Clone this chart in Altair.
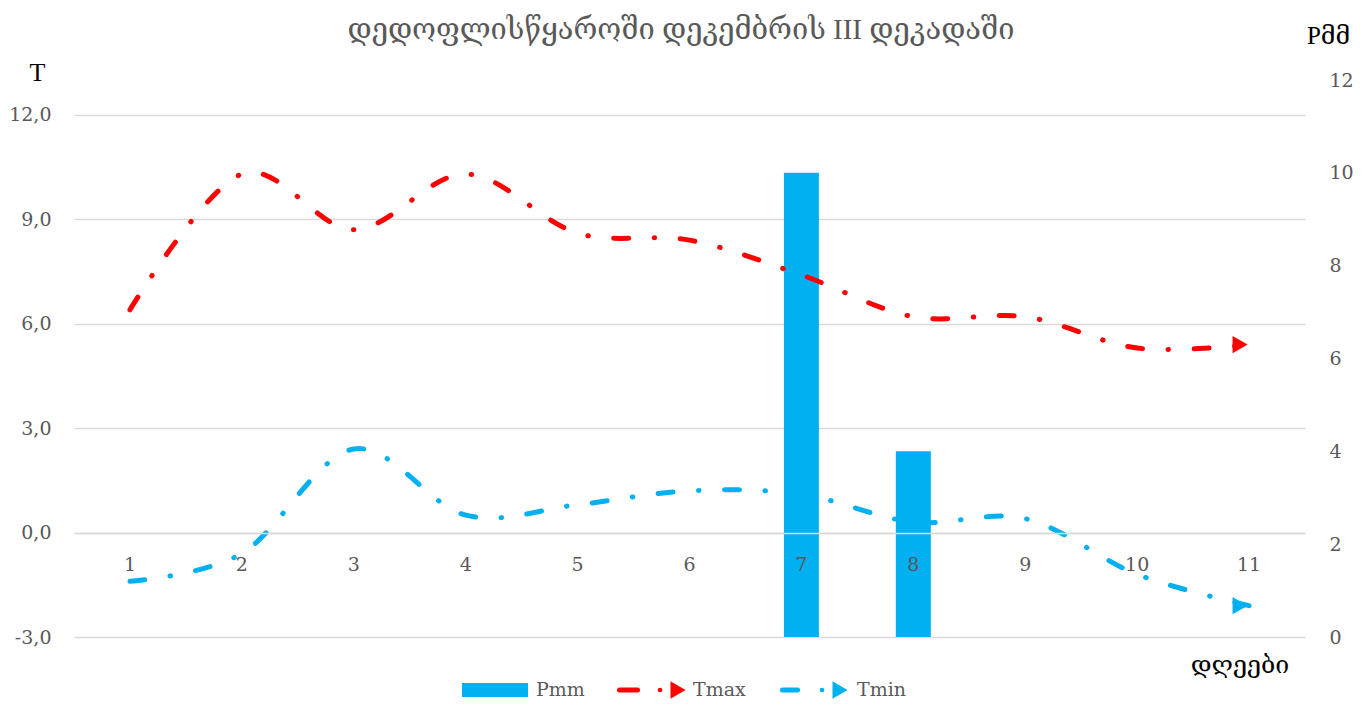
import altair as alt
import pandas as pd

# ---- data ----
days = [1, 2, 3, 4, 5, 6, 7, 8, 9, 10, 11]
pmm = [0, 0, 0, 0, 0, 0, 10, 4, 0, 0, 0]
tmax = [6.4, 10.3, 8.7, 10.3, 8.6, 8.4, 7.4, 6.2, 6.2, 5.3, 5.4]
tmin = [-1.4, -0.6, 2.4, 0.5, 0.8, 1.2, 1.1, 0.3, 0.4, -1.2, -2.1]
t_ticks = [-3, 0, 3, 6, 9, 12]
p_ticks = [0, 2, 4, 6, 8, 10, 12]
title_text = "დედოფლისწყაროში დეკემბრის III დეკადაში"
x_title = "დღეები"

W, H = 1231, 557
FONT = "DejaVu Serif, Liberation Serif, DejaVu Sans"
TFONT = "Liberation Serif, DejaVu Serif, DejaVu Sans"
GREY = "#595959"
RED = "#FF0000"
BLUE = "#00B0F0"
GRID = "#d9d9d9"
DASH = [15, 25.5, 0.5, 25.5]
LS = 19

df = pd.DataFrame({"day": days, "Pmm": pmm, "Tmax": tmax, "Tmin": tmin})
long = df.melt(id_vars="day", value_vars=["Tmax", "Tmin"], var_name="series", value_name="T")

xscale = alt.Scale(paddingInner=0, paddingOuter=0)
xaxis = alt.Axis(title=None, labelAngle=0, labelFont=FONT, labelFontSize=LS, labelColor=GREY,
                 ticks=False, domain=True, domainColor=GRID, domainWidth=1.5, offset=-104,
                 labelPadding=22, zindex=1, grid=False)
xenc = alt.X("day:O", scale=xscale, axis=xaxis)

t_axis = alt.Axis(values=t_ticks,
                  labelExpr="replace(replace(format(datum.value, '.1f'), '.', ','), '\u2212', '-')",
                  grid=True, gridColor=GRID, gridWidth=1.5, ticks=False, domain=False,
                  labelPadding=23, labelFont=FONT, labelFontSize=LS, labelColor=GREY,
                  title="T", titleAngle=0, titleX=-37, titleY=-8, titleAlign="center",
                  titleBaseline="middle", titleFont=TFONT, titleFontSize=26,
                  titleFontWeight="normal", titleColor="black", orient="left")
yT = alt.Y("T:Q", scale=alt.Scale(domain=[-3, 13], nice=False, zero=False), axis=t_axis)

p_axis = alt.Axis(orient="right", values=p_ticks, grid=False, ticks=False, domain=False,
                  labelPadding=24, labelFont=FONT, labelFontSize=LS, labelColor=GREY,
                  title="Pმმ", titleAngle=0, titleX=23, titleY=-45, titleAlign="center",
                  titleBaseline="middle", titleFont=TFONT, titleFontSize=25,
                  titleFontWeight="normal", titleColor="black")

bars = alt.Chart(df).mark_bar(size=35, color=BLUE).encode(
    x=xenc,
    y=alt.Y("Pmm:Q", scale=alt.Scale(domain=[0, 12], nice=False), axis=p_axis),
)

color = alt.Color("series:N", scale=alt.Scale(domain=["Tmax", "Tmin"], range=[RED, BLUE]), legend=None)

lines = alt.Chart(long).mark_line(strokeWidth=5, strokeDash=DASH, strokeCap="round",
                                  interpolate="cardinal").encode(x=xenc, y=yT, color=color)

arrows = alt.Chart(long).transform_filter("datum.day == 11").mark_point(
    shape="triangle-right", filled=True, size=300, opacity=1).encode(
    x=alt.X("day:O", scale=xscale, axis=xaxis, bandPosition=0.42), y=yT, color=color)

inner = alt.layer(lines, arrows)

one = alt.Data(values=[{"a": 1}])


def txt(s, x, y, size, col, align="left", font=FONT):
    return alt.Chart(one).mark_text(text=s, font=font, fontSize=size, color=col, align=align,
                                    baseline="middle").encode(x=alt.value(x), y=alt.value(y))


def dash(x1, x2, y, col):
    return alt.Chart(one).mark_rule(strokeWidth=5, strokeCap="round", color=col).encode(
        x=alt.value(x1), x2=alt.value(x2), y=alt.value(y))


def dot(x, y, col):
    return alt.Chart(one).mark_circle(size=22, color=col, opacity=1).encode(x=alt.value(x), y=alt.value(y))


def tri(x, y, col):
    return alt.Chart(one).mark_point(shape="triangle-right", filled=True, size=300, color=col,
                                     opacity=1).encode(x=alt.value(x), y=alt.value(y))


LY = 610
decor = [
    txt(title_text, 607, -50, 29, GREY, "center", TFONT),
    txt(x_title, 1166, 585, 25, "black", "center", TFONT),
    alt.Chart(one).mark_rect(color=BLUE).encode(x=alt.value(388), x2=alt.value(454),
                                                y=alt.value(603), y2=alt.value(617)),
    txt("Pmm", 462, LY, LS, GREY),
    dash(545.5, 563.5, LY, RED), dot(586, LY, RED), tri(604, LY, RED),
    txt("Tmax", 619, LY, LS, GREY),
    dash(708.5, 723.5, LY, BLUE), dot(748, LY, BLUE), tri(766, LY, BLUE),
    txt("Tmin", 783, LY, LS, GREY),
]

chart = alt.layer(bars, inner, *decor).resolve_scale(y="independent").properties(
    width=W, height=H,
    padding={"left": 66, "top": 72, "right": 50, "bottom": 70},
    autosize=alt.AutoSizeParams(type="none"),
).configure_view(stroke=None)

chart.save("out.html", embed_options={"renderer": "svg", "actions": False})
